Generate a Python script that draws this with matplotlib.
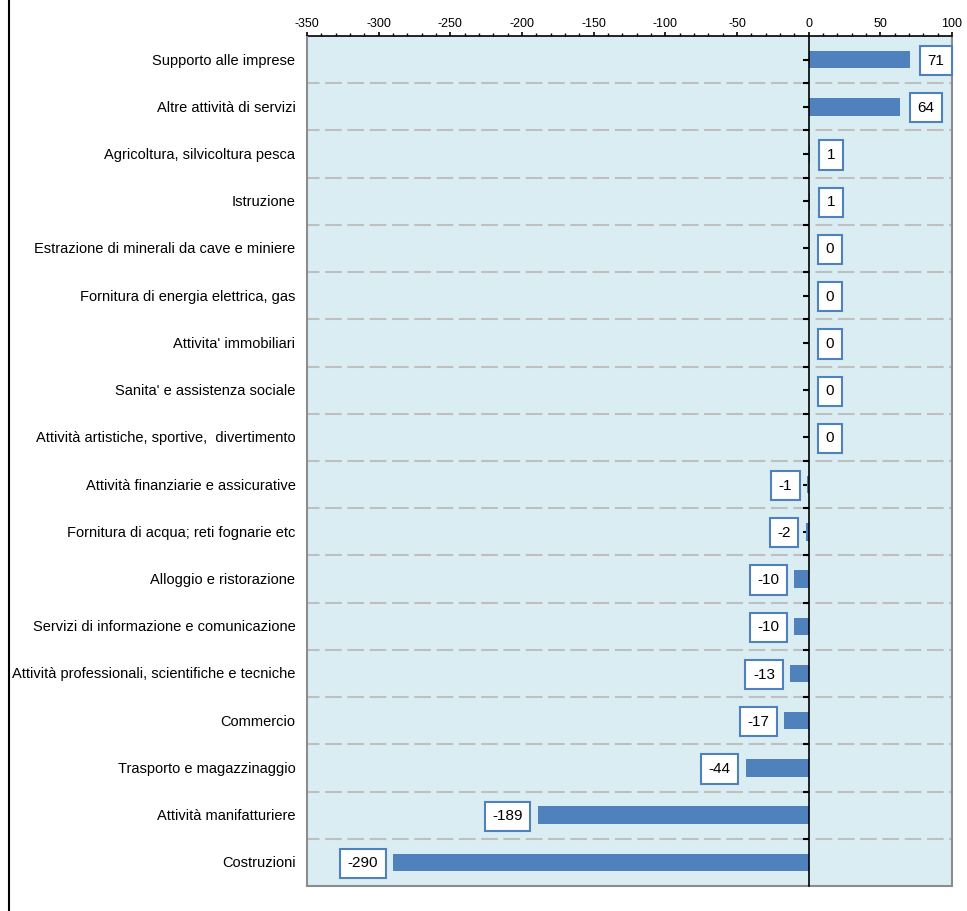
import matplotlib.pyplot as plt
from matplotlib.lines import Line2D
from matplotlib.ticker import MultipleLocator
import matplotlib.transforms as mtransforms

plt.rcParams["font.family"] = ["Liberation Sans", "DejaVu Sans"]

# ── Dati ──────────────────────────────────────────────────────────
SETTORI = [
    "Supporto alle imprese",
    "Altre attività di servizi",
    "Agricoltura, silvicoltura pesca",
    "Istruzione",
    "Estrazione di minerali da cave e miniere",
    "Fornitura di energia elettrica, gas",
    "Attivita' immobiliari",
    "Sanita' e assistenza sociale",
    "Attività artistiche, sportive,  divertimento",
    "Attività finanziarie e assicurative",
    "Fornitura di acqua; reti fognarie etc",
    "Alloggio e ristorazione",
    "Servizi di informazione e comunicazione",
    "Attività professionali, scientifiche e tecniche",
    "Commercio",
    "Trasporto e magazzinaggio",
    "Attività manifatturiere",
    "Costruzioni",
]
SALDI = [71, 64, 1, 1, 0, 0, 0, 0, 0, -1, -2, -10, -10, -13, -17, -44, -189, -290]
XTICKS = [-350, -300, -250, -200, -150, -100, -50, 0, 50, 100]

BAR_COLOR = "#4F81BD"
BG_COLOR = "#DAEDF3"

fig = plt.figure(figsize=(9.67, 9.11), dpi=100)
ax = fig.add_axes([0.3175, 0.0274, 0.667, 0.9331])
ax.set_facecolor(BG_COLOR)

pos = list(range(len(SETTORI)))
ax.barh(pos, SALDI, height=0.37, color=BAR_COLOR, zorder=3)

# linee tratteggiate tra le categorie
for k in range(1, len(SETTORI)):
    ax.axhline(k - 0.5, color="#BFBFBF", lw=1.5, linestyle=(2, (8, 2.7)), zorder=1)

ax.set_xlim(-350, 100)
ax.set_ylim(len(SETTORI) - 0.5, -0.5)

# asse x in alto
ax.xaxis.set_ticks_position("top")
ax.set_xticks(XTICKS)
ax.set_xticklabels([str(v) for v in XTICKS], fontsize=9)
ax.xaxis.set_minor_locator(MultipleLocator(10))
ax.tick_params(axis="x", which="major", direction="out", length=3, width=1.2, pad=1)
ax.tick_params(axis="x", which="minor", direction="out", length=2, width=1)

# asse y sullo zero
ax.spines["left"].set_position(("data", 0))
ax.spines["left"].set_color("black")
ax.spines["left"].set_linewidth(1.2)
ax.spines["left"].set_zorder(4)
ax.set_yticks([k - 0.5 for k in range(1, len(SETTORI))])
ax.set_yticks(pos, minor=True)
ax.tick_params(axis="y", which="both", direction="out", length=4, width=1.5,
               labelleft=False)

for side in ("right", "bottom"):
    ax.spines[side].set_color("#8C8C8C")
    ax.spines[side].set_linewidth(1.5)
ax.spines["top"].set_color("black")
ax.spines["top"].set_linewidth(1.2)

# bordo sinistro dell'area del grafico
ax.add_patch(plt.Rectangle((0, 0), 0, 1, transform=ax.transAxes, fill=False,
                           edgecolor="#8C8C8C", lw=1.5, zorder=5, clip_on=False))

# etichette delle categorie
trans = mtransforms.blended_transform_factory(ax.transAxes, ax.transData)
for k, nome in enumerate(SETTORI):
    ax.text(-0.018, k + 0.02, nome, transform=trans, ha="right", va="center",
            fontsize=10.5)

# etichette dei valori
for k, v in enumerate(SALDI):
    if v >= 0:
        off, ha = 17, "left"
    else:
        off, ha = -15, "right"
    ax.annotate(str(v), (v, k), xytext=(off, -1), textcoords="offset pixels",
                ha=ha, va="center", fontsize=11, zorder=6,
                bbox=dict(boxstyle="square,pad=0.5", fc="white", ec=BAR_COLOR, lw=1.5))

# linea nera a sinistra della figura
fig.add_artist(Line2D([8.5 / 967, 8.5 / 967], [0, 1], color="black", lw=1.5,
                      transform=fig.transFigure))

fig.savefig("out.png", dpi=100)
